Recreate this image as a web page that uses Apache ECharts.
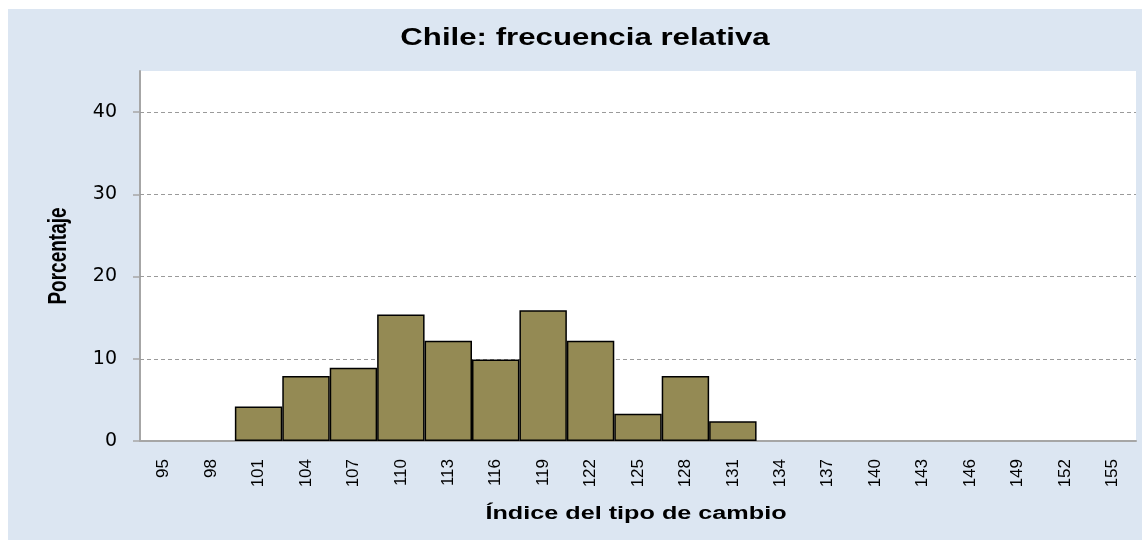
<!DOCTYPE html>
<html>
<head>
<meta charset="utf-8">
<script src="https://cdn.jsdelivr.net/npm/echarts@6/dist/echarts.min.js"></script>
<style>
  html, body { margin: 0; padding: 0; background: #ffffff; }
  #chart {
    position: absolute;
    left: 8px;
    top: 9px;
    width: 1134px;
    height: 531px;
    background: #dce6f2;
  }
</style>
</head>
<body>
<div id="chart"></div>
<script>
// clases del índice (eje x)
const categorias = ["95", "98", "101", "104", "107", "110", "113", "116", "119", "122", "125",
  "128", "131", "134", "137", "140", "143", "146", "149", "152", "155"];
// frecuencia relativa en %
const frecuencia = [0, 0, 4.2, 7.9, 8.9, 15.4, 12.2, 9.9, 15.9, 12.2, 3.3,
  7.9, 2.4, 0, 0, 0, 0, 0, 0, 0, 0];
const ticksY = [0, 10, 20, 30, 40];

const chart = echarts.init(document.getElementById("chart"));

// las clases vacías no llevan barra (ni borde)
const datosBarras = frecuencia.map((v) => (v === 0 ? "-" : v));
// líneas de guía punteadas (sin la del cero)
const guias = ticksY.filter((v) => v > 0).map((v) => ({ yAxis: v }));

const fuente = "'Liberation Sans', Arial, sans-serif";

const option = {
  backgroundColor: "transparent",
  animation: false,
  graphic: [
    {
      // título, algo ensanchado como en el original
      type: "text",
      x: 577,
      y: 29,
      scaleX: 1.3,
      style: {
        text: "Chile: frecuencia relativa",
        x: 0,
        y: 0,
        align: "center",
        verticalAlign: "middle",
        font: "bold 24px " + fuente,
        fill: "#000",
      },
    },
    {
      type: "text",
      x: 628,
      y: 505,
      scaleX: 1.4,
      style: {
        text: "Índice del tipo de cambio",
        x: 0,
        y: 0,
        align: "center",
        verticalAlign: "middle",
        font: "bold 18px " + fuente,
        fill: "#000",
      },
    },
    {
      // nombre del eje y, girado
      type: "text",
      x: 51,
      y: 247,
      rotation: Math.PI / 2,
      scaleY: 1.35,
      style: {
        text: "Porcentaje",
        x: 0,
        y: 0,
        align: "center",
        verticalAlign: "middle",
        font: "bold 19px 'Liberation Sans Narrow', 'Arial Narrow', 'Liberation Sans', sans-serif",
        fill: "#000",
      },
    },
  ],
  grid: {
    left: 132,
    top: 62,
    width: 996,
    height: 370,
    show: true,
    backgroundColor: "#ffffff",
    borderWidth: 0,
  },
  xAxis: {
    type: "category",
    data: categorias,
    boundaryGap: true,
    axisLine: { lineStyle: { color: "#a6a6a6", width: 2 } },
    axisTick: { show: false },
    axisLabel: {
      rotate: 90,
      interval: 0,
      margin: 18,
      fontFamily: fuente,
      fontSize: 17,
      color: "#000",
    },
    splitLine: { show: false },
  },
  yAxis: {
    type: "value",
    min: 0,
    max: 45,
    interval: 10,
    axisLine: { show: true, lineStyle: { color: "#a6a6a6", width: 2 } },
    axisTick: {
      show: true,
      length: 7,
      customValues: ticksY,
      lineStyle: { color: "#a6a6a6", width: 1.5 },
    },
    axisLabel: {
      customValues: ticksY,
      margin: 23,
      fontFamily: "'DejaVu Sans', Verdana, sans-serif",
      fontSize: 19,
      color: "#000",
    },
    splitLine: { show: false },
  },
  series: [
    {
      name: "Frecuencia",
      type: "bar",
      data: datosBarras,
      barWidth: "100%",
      barGap: "0%",
      z: 2,
      itemStyle: {
        color: "#948a54",
        borderColor: "#000",
        borderWidth: 1.5,
      },
      markLine: {
        silent: true,
        z: 1,
        symbol: "none",
        label: { show: false },
        lineStyle: { color: "#9a9a9a", type: [4, 3], width: 1 },
        data: guias,
      },
    },
  ],
};

chart.setOption(option);
</script>
</body>
</html>
